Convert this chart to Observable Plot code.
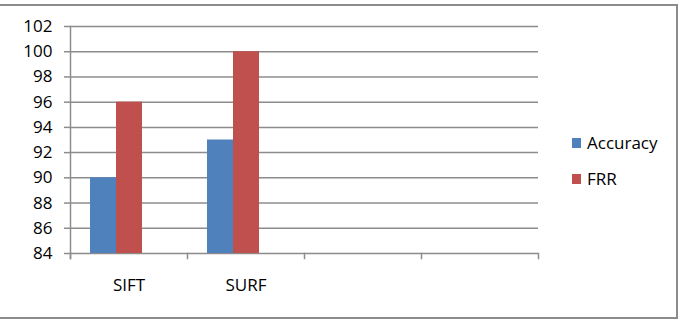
<!DOCTYPE html>
<html>
<head>
<meta charset="utf-8">
<script src="https://cdn.jsdelivr.net/npm/d3@7"></script>
<script src="https://cdn.jsdelivr.net/npm/@observablehq/plot@0.6"></script>
<style>
  html, body { margin: 0; padding: 0; background: #fff; }
  #wrap { position: relative; width: 682px; height: 324px; overflow: hidden; font-family: "Open Sans", sans-serif; }
  #border { position: absolute; left: 0; top: 4px; width: 676px; height: 311px;
    border-top: 2px solid #8c8c8c; border-right: 2px solid #8c8c8c; border-bottom: 2px solid #8c8c8c; }
  #legend { position: absolute; left: 572px; top: 130px; font-size: 17px; color: #000; }
  .item { position: relative; height: 36px; }
  .sw { position: absolute; left: 0; top: 8px; width: 9px; height: 10px; }
  .lab { position: absolute; left: 15px; top: 1px; line-height: 24px; white-space: nowrap; }
</style>
</head>
<body>
<div id="wrap">
  <div id="chart"></div>
  <div id="border"></div>
  <div id="legend"></div>
</div>
<script>
// ---- data ----
const categoryKeys = ["SIFT", "SURF", "cat3", "cat4"];
const categoryLabels = ["SIFT", "SURF", "", ""];
const series = ["Accuracy", "FRR"];
const seriesSlots = ["Accuracy", "FRR", "Series3"]; // third slot is empty in the source chart
const accuracy = [90, 93];
const frr = [96, 100];
const colors = ["#4F81BD", "#C0504D"];
const yTicks = [84, 86, 88, 90, 92, 94, 96, 98, 100, 102];
const yMin = 84, yMax = 102;

const rows = [];
[accuracy, frr].forEach((vals, si) => {
  vals.forEach((v, ci) => rows.push({category: categoryKeys[ci], series: series[si], value: v}));
});

const W = 682, H = 324, mL = 70, mR = 144, mT = 26, mB = 71;
const plotH = H - mT - mB;
const grey = "#8c8c8c";

// marks that must appear in every facet, including the empty ones
const everyFacet = (make) => [make({}), make({facetAnchor: "empty"})];

const chart = Plot.plot({
  width: W, height: H,
  marginLeft: mL, marginRight: mR, marginTop: mT, marginBottom: mB,
  style: {fontFamily: "Open Sans, sans-serif", fontSize: "17px", color: "#000", background: "transparent"},
  fx: {domain: categoryKeys, padding: 0, label: null},
  x: {domain: seriesSlots, paddingInner: 0, paddingOuter: 0.75, axis: null},
  y: {domain: [yMin, yMax], label: null},
  color: {domain: series, range: colors},
  marks: [
    ...everyFacet(o => Plot.gridY(yTicks, {stroke: grey, strokeOpacity: 1, strokeWidth: 1.5, ...o})),
    Plot.barY(rows, {fx: "category", x: "series", y1: yMin, y2: "value", fill: "series"}),
    Plot.frame({anchor: "left", facetAnchor: "left", stroke: grey, strokeWidth: 1.5, insetBottom: -5}),
    ...everyFacet(o => Plot.frame({anchor: "left", stroke: grey, strokeWidth: 1.5, insetTop: plotH, insetBottom: -5, ...o})),
    Plot.frame({anchor: "right", facetAnchor: "right", stroke: grey, strokeWidth: 1.5, insetTop: plotH, insetBottom: -5}),
    Plot.axisY({ticks: yTicks, tickSize: 6, tickPadding: 12, stroke: grey, strokeWidth: 1.5, fill: "#000", label: null, fontSize: 17}),
    Plot.axisFx({anchor: "bottom", tickSize: 0, tickPadding: 25, label: null, fontSize: 17,
      tickFormat: d => categoryLabels[categoryKeys.indexOf(d)]})
  ]
});
document.getElementById("chart").appendChild(chart);

const legend = document.getElementById("legend");
series.forEach((s, i) => {
  const item = document.createElement("div");
  item.className = "item";
  item.innerHTML = `<div class="sw" style="background:${colors[i]}"></div><div class="lab">${s}</div>`;
  legend.appendChild(item);
});
</script>
</body>
</html>
